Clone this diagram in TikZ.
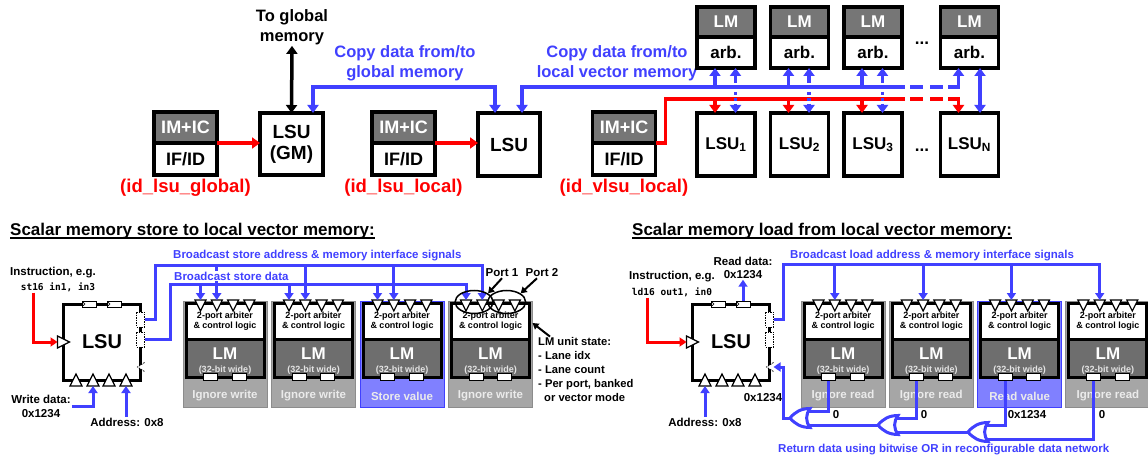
\documentclass[tikz,border=0pt]{standalone}
\usepackage{fontspec}
\setmainfont{Liberation Sans}
\setmonofont{DejaVu Sans Mono}
\usetikzlibrary{positioning,shapes.geometric,arrows.meta,calc}

\definecolor{bblue}{RGB}{64,64,255}
\definecolor{imgray}{RGB}{118,118,118}
\definecolor{lmgray}{RGB}{110,110,110}
\definecolor{ugray}{RGB}{166,166,166}
\definecolor{ugrayd}{RGB}{140,140,140}
\definecolor{ublue}{RGB}{128,128,255}
\newcommand{\fsz}[2]{\fontsize{#1}{#2}\selectfont\bfseries}

\begin{document}
\begin{tikzpicture}[x=1pt,y=-1pt,
    >={Triangle[length=8pt,width=11pt]},
    topbox/.style={draw, line width=3.5pt, fill=white, inner sep=0pt, outer sep=0pt, minimum width=63pt, align=center, font=\fsz{18}{21}},
    lbl/.style={font=\fsz{16.5}{20}, align=center, inner sep=1pt},
    bus/.style={bblue, line width=3.5pt},
    rline/.style={red, line width=3.5pt},
    bus2/.style={bblue, line width=3pt},
    rline2/.style={red, line width=3pt},
    txt/.style={font=\fsz{11.5}{14}, inner sep=1pt},
    mono/.style={font=\fontsize{9.5}{11}\selectfont\ttfamily\bfseries, inner sep=1pt},
    lsubox/.style={draw, line width=3pt, fill=white, minimum width=77pt, minimum height=76pt, inner sep=0pt, outer sep=0pt, font=\fsz{20}{20}},
    unitbg/.style={line width=1pt, minimum width=84pt, minimum height=106pt, inner sep=0pt, outer sep=0pt},
    arbbox/.style={draw, fill=white, line width=3pt, minimum width=78pt, minimum height=36pt, inner sep=0pt, outer sep=0pt, align=center, font=\fsz{9}{10.5}},
    lmbox/.style={draw, fill=lmgray, line width=3pt, minimum width=78pt, minimum height=38pt, inner sep=0pt, outer sep=0pt},
    lmtxt/.style={text=white, font=\fsz{17}{17}, inner sep=0pt},
    widetxt/.style={text=gray!20, font=\fsz{9}{9}, inner sep=0pt},
    bandtxt/.style={text=white!92!black, font=\fsz{11.5}{12}, inner sep=0pt},
    portell/.style={draw, ellipse, line width=1.5pt, minimum width=38pt, minimum height=23pt, inner sep=0pt},
    pointer/.style={line width=2pt, -{Triangle[length=6pt,width=7pt]}},
    ffport/.pic={\draw[fill=white, line width=0.8pt] (-7,-3) rectangle (7,3);
                 \draw[line width=0.6pt] (-6,-1.8) -- (-4,0) -- (-6,1.8);},
    dport/.pic={\draw[fill=white, line width=0.8pt, dash pattern=on 1.5pt off 1pt] (-4,-7.5) rectangle (4,7.5);},
    dtri/.pic={\draw[fill=white, line width=0.8pt, dash pattern=on 1.5pt off 1pt] (4,-4.5) -- (-3,0) -- (4,4.5);},
    triup/.pic={\draw[fill=white, line width=1.2pt] (-6,6) -- (6,6) -- (0,-6) -- cycle;},
    tridown/.pic={\draw[fill=white, line width=1.2pt] (-5.5,-5.5) -- (5.5,-5.5) -- (0,5.5) -- cycle;},
    triright/.pic={\draw[fill=white, line width=1.2pt] (-6,-6) -- (-6,6) -- (6,0) -- cycle;},
    lmport/.pic={\draw[fill=white, line width=0.8pt] (-7,-3.5) rectangle (7,3.5);},
    orgate/.pic={\draw[bblue, line width=3pt, fill=white] (0,0) .. controls (5,-6) and (11,-9.5) .. (20,-9.5)
                   .. controls (15.5,-4) and (15.5,4) .. (20,9.5) .. controls (11,9.5) and (5,6) .. (0,0) -- cycle;
                 \coordinate (-out) at (0,0);
                 \coordinate (-in1) at (18.3,-7);
                 \coordinate (-in2) at (18.3,7);}
  ]
  \useasboundingbox (0,0) rectangle (1148,462);

  % Front ends
  \foreach \n/\cx in {1/185.5, 2/403.5, 3/624} {
    \node[topbox, fill=imgray, text=white, minimum height=31pt] (imic\n) at (\cx,127.5) {IM+IC};
    \node[topbox, minimum height=32pt, below=0pt of imic\n] (ifid\n) {IF/ID};
  }
  \node[red, font=\fsz{18.5}{20}] (tag1) at (185.5,188) {(id\_lsu\_global)};
  \node[red, font=\fsz{18.5}{20}] (tag2) at (403.5,188) {(id\_lsu\_local)};
  \node[red, font=\fsz{18.5}{20}] (tag3) at (624,188) {(id\_vlsu\_local)};

  \node[topbox, minimum height=62pt, font=\fsz{19}{21}] (lsugm) at (291.5,144) {LSU\\(GM)};
  \node[topbox, minimum width=62pt, minimum height=63pt, font=\fsz{19}{21}] (lsul) at (509,144.5) {LSU};

  \node[lbl] (glob) at (292,27) {To global\\memory};
  \node[lbl, text=bblue] (cpyg) at (405,63) {Copy data from/to\\global memory};
  \node[lbl, text=bblue] (cpyl) at (617,63) {Copy data from/to\\local vector memory};

  % Vector lanes
  \foreach \n/\cx in {1/726, 2/799.5, 3/873, N/969.5} {
    \node[topbox, fill=imgray, text=white, minimum width=58pt, minimum height=30pt, font=\fsz{17}{17}] (lm\n) at (\cx,22) {LM};
    \node[topbox, minimum width=58pt, minimum height=31pt, font=\fsz{17}{17}, below=0pt of lm\n] (arb\n) {arb.};
    \node[topbox, minimum width=58pt, minimum height=63pt, font=\fsz{17}{17}] (lsu\n) at (\cx,144.5) {LSU\textsubscript{\n}};
  }
  \node[font=\fsz{17}{17}] (dots1) at (922,43) {...};
  \node[font=\fsz{17}{17}] (dots2) at (922,150) {...};

  \draw[rline,->] (imic1.south east) -- (imic1.south east -| lsugm.west);
  \draw[rline,->] (imic2.south east) -- (imic2.south east -| lsul.west);
  \draw[line width=3.5pt,<->] (glob.south) -- (lsugm.north);
  \draw[bus,<->] ([xshift=21.5pt]lsugm.north) -- ++(0,-26) -| ([xshift=-14pt]lsul.north);

  \coordinate (bd1) at (905,87);
  \coordinate (bd2) at (948,87);
  \coordinate (rd1) at (905,99);
  \coordinate (rd2) at (948,99);
  \draw[bus,<-] ([xshift=13pt]lsul.north) |- (bd1);
  \draw[bus, dash pattern=on 0pt off 5pt on 13pt off 7pt on 13pt off 5pt] (bd1) -- (bd2);
  \draw[bus,->] (bd2) -| ([xshift=-11pt]arbN.south);
  \draw[rline] (imic3.south east) -- ++(10,0) |- (rd1);
  \draw[rline, dash pattern=on 0pt off 5pt on 13pt off 7pt on 13pt off 5pt] (rd1) -- (rd2);
  \draw[rline,->] (rd2) -| ([xshift=-11pt]lsuN.north);
  \foreach \n in {1,2,3} {
    \draw[bus,->] ([xshift=-11pt]arb\n.south |- bd1) -- ([xshift=-11pt]arb\n.south);
    \draw[rline,->] ([xshift=-11pt]lsu\n.north |- rd1) -- ([xshift=-11pt]lsu\n.north);
    \draw[bus,->] ([xshift=9.5pt,yshift=-12pt]arb\n.south) -- ([xshift=9.5pt]arb\n.south);
    \draw[bus, dash pattern=on 3pt off 3pt] ([xshift=9.5pt,yshift=-12pt]arb\n.south) -- ([xshift=9.5pt,yshift=9pt]lsu\n.north);
    \draw[bus,->] ([xshift=9.5pt,yshift=9pt]lsu\n.north) -- ([xshift=9.5pt]lsu\n.north);
  }
  \draw[bus,<->] ([xshift=10.5pt]arbN.south) -- ([xshift=10.5pt]lsuN.north);

  \begin{scope}[>={Triangle[length=7pt,width=9pt]}]
  % Scalar store
  \node[font=\fsz{17}{17}, anchor=base west, inner sep=0pt] (titleS) at (10,235.5) {Scalar memory store to local vector memory:};
  \draw[line width=1.5pt] ([yshift=-2.5pt]titleS.base west) -- ([yshift=-2.5pt]titleS.base east);

  \node[lsubox] (lsuS) at (102,342) {LSU};
  \foreach \dx in {-13,12} \pic at ([xshift=\dx]lsuS.north) {ffport};
  \pic at ([yshift=22.5pt]lsuS.east) {dport};
  \pic at ([yshift=2.5pt]lsuS.east) {dport};
  \pic at ([yshift=-25pt]lsuS.east) {dtri};
  \pic at (lsuS.west) {triright};
  \foreach \dx in {-26,-9,7,24} \pic at ([xshift=\dx]lsuS.south) {triup};

  \foreach \i/\lbl/\fc/\dc in {1/Ignore write/ugray/ugrayd, 2/Ignore write/ugray/ugrayd, 3/Store value/ublue/bblue, 4/Ignore write/ugray/ugrayd} {
    \pgfmathsetmacro{\cx}{225+88.5*(\i-1)}
    \node[unitbg, fill=\fc, draw=\dc] (su\i) at (\cx,354) {};
    \node[arbbox] (sa\i) at (\cx,321) {2-port arbiter\\\& control logic};
    \node[lmbox, below=0pt of sa\i] (sm\i) {};
    \node[lmtxt] (sl\i) at ([yshift=4pt]sm\i.center) {LM};
    \node[widetxt] (sw\i) at ([yshift=-12pt]sm\i.center) {(32-bit wide)};
    \node[bandtxt] (sb\i) at (\cx,396) {\lbl};
    \foreach \dx in {-24.5,-8.2,8.1,24.4} \pic at ([xshift=\dx,yshift=-2.5pt]sa\i.north) {tridown};
    \foreach \dx in {-14.5,14} \pic at ([xshift=\dx]sm\i.south) {lmport};
  }

  \coordinate (adrS) at (155,266);
  \coordinate (datS) at (170,285);
  \draw[bus2,->] ([xshift=4pt,yshift=22.5pt]lsuS.east) -| (adrS) -| ([xshift=-8.2pt,yshift=3pt]sa4.north);
  \draw[bus2,->] ([xshift=4pt,yshift=2.5pt]lsuS.east) -| (datS) -| ([xshift=-24.5pt,yshift=3pt]sa4.north);
  \foreach \i in {1,2,3} {
    \draw[bus2,->] ([xshift=-8.2pt]sa\i.north |- adrS) -- ([xshift=-8.2pt,yshift=3pt]sa\i.north);
    \draw[bus2,->] ([xshift=-24.5pt]sa\i.north |- datS) -- ([xshift=-24.5pt,yshift=3pt]sa\i.north);
  }
  \node[txt, text=bblue, anchor=west] (bcA) at (172,256) {Broadcast store address \& memory interface signals};
  \node[txt, text=bblue, anchor=west, fill=white] (bcD) at (173,276) {Broadcast store data};

  \node[txt] (ins1) at (53,273) {Instruction, e.g.};
  \node[mono] (ins1c) at (58,287) {st16 in1, in3};
  \draw[rline2,->] ([xshift=-25pt]ins1c.south) |- ([xshift=-6pt]lsuS.west);
  \node[txt, align=center] (wd) at (41,406) {Write data:\\0x1234};
  \draw[bus2,->] (wd.east) -| ([xshift=-9pt,yshift=-6pt]lsuS.south);
  \node[txt] (adS) at (127,422) {Address: 0x8};
  \draw[bus2,->] ([xshift=24pt]lsuS.south |- adS.north) -- ([xshift=24pt,yshift=-6pt]lsuS.south);

  % Ports and unit state
  \node[portell] (pt1) at ([xshift=-16.4pt,yshift=1pt]sa4.north) {};
  \node[portell] (pt2) at ([xshift=16.2pt,yshift=1pt]sa4.north) {};
  \node[txt] (p1t) at (502,273) {Port 1};
  \node[txt] (p2t) at (542,273) {Port 2};
  \draw[pointer] (p1t.south) -- (pt1.north east);
  \draw[pointer] ([xshift=-5pt]p2t.south) -- (pt2.north east);
  \node[txt, align=left, anchor=west, font=\fsz{11.2}{13.8}] (lmst) at (537,369.5) {LM unit state:\\- Lane idx\\- Lane count\\- Per port, banked\\\hspace*{6pt}or vector mode};
  \draw[pointer] ([xshift=13pt]lmst.north west) -- ([yshift=31pt]su4.east);

  % Scalar load
  \node[font=\fsz{17}{17}, anchor=base west, inner sep=0pt] (titleL) at (632,235.5) {Scalar memory load from local vector memory:};
  \draw[line width=1.5pt] ([yshift=-2.5pt]titleL.base west) -- ([yshift=-2.5pt]titleL.base east);

  \node[lsubox] (lsuL) at (731,342) {LSU};
  \foreach \dx in {-13,12} \pic at ([xshift=\dx]lsuL.north) {ffport};
  \pic at ([yshift=22.5pt]lsuL.east) {dport};
  \pic at ([yshift=2.5pt]lsuL.east) {dport};
  \pic at ([yshift=-25pt]lsuL.east) {dtri};
  \pic at (lsuL.west) {triright};
  \foreach \dx in {-26,-9,7,24} \pic at ([xshift=\dx]lsuL.south) {triup};

  \foreach \i/\lbl/\fc/\dc in {1/Ignore read/ugray/ugrayd, 2/Ignore read/ugray/ugrayd, 3/Read value/ublue/bblue, 4/Ignore read/ugray/ugrayd} {
    \pgfmathsetmacro{\cx}{843+88.3*(\i-1)}
    \node[unitbg, fill=\fc, draw=\dc] (ru\i) at (\cx,354) {};
    \node[arbbox] (ra\i) at (\cx,321) {2-port arbiter\\\& control logic};
    \node[lmbox, below=0pt of ra\i] (rm\i) {};
    \node[lmtxt] (rl\i) at ([yshift=4pt]rm\i.center) {LM};
    \node[widetxt] (rw\i) at ([yshift=-12pt]rm\i.center) {(32-bit wide)};
    \node[bandtxt] (rb\i) at (\cx,396) {\lbl};
    \foreach \dx in {-24.5,-8.2,8.1,24.4} \pic at ([xshift=\dx,yshift=-2.5pt]ra\i.north) {tridown};
    \foreach \dx in {-14.5,14} \pic at ([xshift=\dx]rm\i.south) {lmport};
  }

  \coordinate (adrL) at (783,265);
  \draw[bus2,->] ([xshift=4pt,yshift=22.5pt]lsuL.east) -| (adrL) -| ([xshift=-8.2pt,yshift=3pt]ra4.north);
  \foreach \i in {1,2,3}
    \draw[bus2,->] ([xshift=-8.2pt]ra\i.north |- adrL) -- ([xshift=-8.2pt,yshift=3pt]ra\i.north);
  \node[txt, text=bblue, anchor=west] (bcL) at (789,256) {Broadcast load address \& memory interface signals};

  \node[txt] (ins2) at (672,277) {Instruction, e.g.};
  \node[mono] (ins2c) at (672,292) {ld16 out1, in0};
  \draw[rline2,->] ([xshift=-25pt]ins2c.south) |- ([xshift=-6pt]lsuL.west);
  \node[txt, align=center, font=\fsz{11.5}{12.6}] (rdt) at (743,268) {Read data:\\0x1234};
  \draw[bus2,->] ([xshift=12pt,yshift=3pt]lsuL.north) -- ([xshift=12pt]lsuL.north |- rdt.south);
  \node[txt] (adR) at (705,422) {Address: 0x8};
  \draw[bus2,->] ([xshift=-26pt]lsuL.south |- adR.north) -- ([xshift=-26pt,yshift=-6pt]lsuL.south);
  \node[txt] (rv) at (763,398) {0x1234};

  % OR network
  \pic (g1) at (790,418) {orgate};
  \pic (g2) at (878,425) {orgate};
  \pic (g3) at (968,432) {orgate};
  \draw[bus2] ([xshift=-14.5pt,yshift=-3.5pt]rm1.south) |- (g1-in1);
  \draw[bus2] ([xshift=-14.5pt,yshift=-3.5pt]rm2.south) |- (g2-in1);
  \draw[bus2] ([xshift=-14.5pt,yshift=-3.5pt]rm3.south) |- (g3-in1);
  \draw[bus2] ([xshift=-14.5pt,yshift=-3.5pt]rm4.south) |- (g3-in2);
  \draw[bus2] (g2-out) -- (g1-in2);
  \draw[bus2] (g3-out) -- (g2-in2);
  \draw[bus2,->] (g1-out) -| ([xshift=14pt,yshift=-25pt]lsuL.east) -- ([xshift=4pt,yshift=-25pt]lsuL.east);
  \node[txt] (z1) at (836,415) {0};
  \node[txt] (z2) at (924,415) {0};
  \node[txt] (z3) at (1027,415) {0x1234};
  \node[txt] (z4) at (1102,415) {0};
  \node[txt, text=bblue, anchor=west] (ret) at (777,450) {Return data using bitwise OR in reconfigurable data network};
  \end{scope}
\end{tikzpicture}
\end{document}
